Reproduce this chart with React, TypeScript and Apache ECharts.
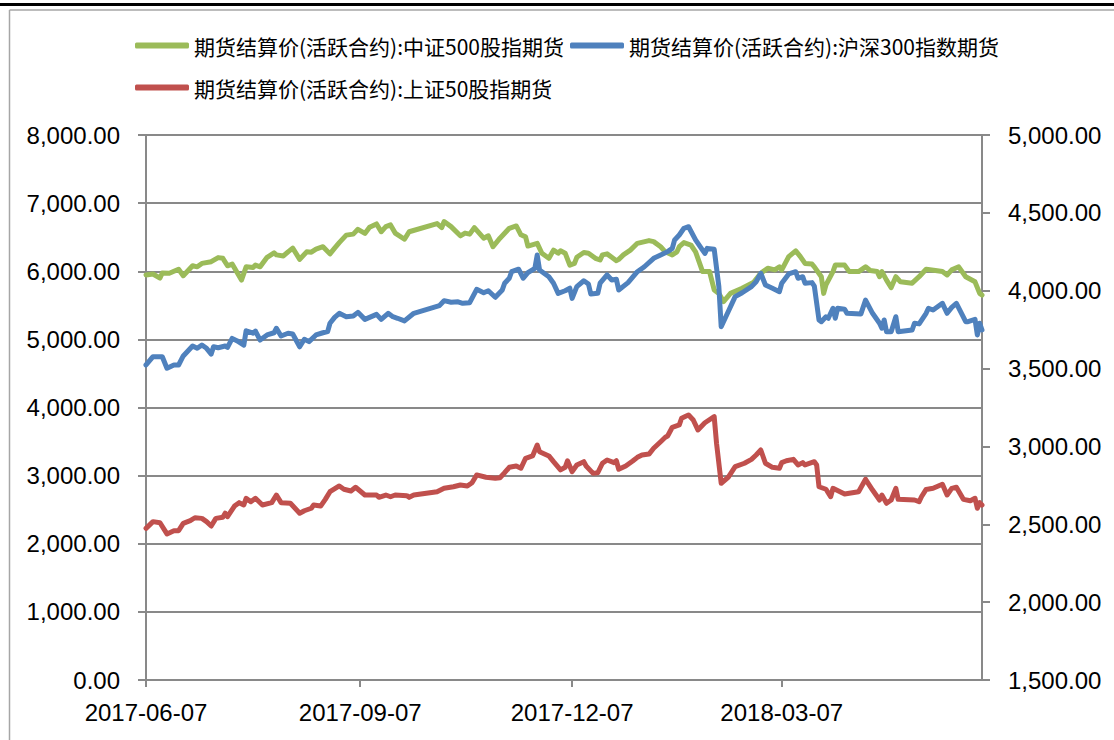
import React, { useEffect, useRef } from "react";
import * as echarts from "echarts";

const seriesNames = [
  "期货结算价(活跃合约):中证500股指期货",
  "期货结算价(活跃合约):沪深300指数期货",
  "期货结算价(活跃合约):上证50股指期货",
];

const xStart = "2017-06-07";
const xEnd = "2018-06-01";
const xTickDates = ["2017-06-07", "2017-09-07", "2017-12-07", "2018-03-07"];

const leftAxis = { min: 0, max: 8000, interval: 1000 };
const rightAxis = { min: 1500, max: 5000, interval: 500 };

// 中证500 (left axis)
const csi500Dates = [
  "2017-06-07","2017-06-10","2017-06-13","2017-06-14","2017-06-17","2017-06-21","2017-06-23","2017-06-27","2017-06-29","2017-07-01",
  "2017-07-05","2017-07-08","2017-07-10","2017-07-12","2017-07-14","2017-07-18","2017-07-20","2017-07-23","2017-07-24","2017-07-26",
  "2017-07-29","2017-08-01","2017-08-02","2017-08-05","2017-08-07","2017-08-09","2017-08-12","2017-08-15","2017-08-17","2017-08-19",
  "2017-08-22","2017-08-25","2017-08-27","2017-08-29","2017-09-01","2017-09-04","2017-09-06","2017-09-09","2017-09-11","2017-09-14",
  "2017-09-16","2017-09-18","2017-09-20","2017-09-22","2017-09-26","2017-09-28","2017-10-10","2017-10-12","2017-10-13","2017-10-16",
  "2017-10-20","2017-10-22","2017-10-24","2017-10-26","2017-10-30","2017-11-01","2017-11-03","2017-11-06","2017-11-10","2017-11-13",
  "2017-11-15","2017-11-17","2017-11-18","2017-11-22","2017-11-24","2017-11-27","2017-11-29","2017-12-01","2017-12-02","2017-12-04",
  "2017-12-06","2017-12-08","2017-12-09","2017-12-12","2017-12-14","2017-12-17","2017-12-19","2017-12-20","2017-12-22","2017-12-24",
  "2017-12-26","2017-12-27","2017-12-29","2018-01-01","2018-01-04","2018-01-09","2018-01-11","2018-01-14","2018-01-16","2018-01-19",
  "2018-01-21","2018-01-22","2018-01-24","2018-01-27","2018-01-29","2018-02-01","2018-02-04","2018-02-06","2018-02-08","2018-02-10",
  "2018-02-13","2018-02-18","2018-02-23","2018-02-26","2018-03-01","2018-03-04","2018-03-06","2018-03-07","2018-03-10","2018-03-13",
  "2018-03-15","2018-03-17","2018-03-20","2018-03-21","2018-03-24","2018-03-25","2018-03-26","2018-03-29","2018-03-30","2018-04-03",
  "2018-04-05","2018-04-09","2018-04-12","2018-04-14","2018-04-17","2018-04-18","2018-04-19","2018-04-21","2018-04-23","2018-04-25",
  "2018-04-27","2018-05-02","2018-05-05","2018-05-08","2018-05-12","2018-05-15","2018-05-17","2018-05-19","2018-05-22","2018-05-25",
  "2018-05-29","2018-05-31","2018-06-01",
];
const csi500Values = [
  5945,5960,5900,5975,5970,6030,5935,6080,6065,6115,
  6140,6200,6190,6080,6105,5870,6065,6055,6090,6065,
  6205,6270,6240,6225,6285,6340,6175,6285,6280,6325,
  6360,6255,6340,6420,6530,6545,6615,6555,6645,6695,
  6580,6655,6680,6560,6470,6580,6700,6640,6730,6655,
  6520,6560,6545,6640,6485,6520,6360,6485,6630,6665,
  6535,6505,6370,6410,6265,6190,6310,6265,6300,6265,
  6090,6115,6205,6275,6265,6190,6165,6240,6255,6205,
  6155,6175,6240,6310,6410,6450,6435,6360,6285,6240,
  6285,6360,6420,6385,6285,5995,5995,5725,5675,5555,
  5675,5750,5840,5970,6045,6020,6065,6020,6215,6300,
  6215,6115,6105,6065,5920,5675,5800,5995,6090,6090,
  5995,5995,6065,6010,5995,5920,5995,5870,5760,5920,
  5845,5825,5920,6030,6010,5995,5945,6020,6065,5920,
  5845,5675,5650,
];

// 沪深300 (right axis)
const hs300Dates = [
  "2017-06-07","2017-06-10","2017-06-14","2017-06-16","2017-06-19","2017-06-21","2017-06-23","2017-06-27","2017-06-29","2017-07-01",
  "2017-07-03","2017-07-05","2017-07-06","2017-07-08","2017-07-11","2017-07-12","2017-07-14","2017-07-16","2017-07-19","2017-07-20",
  "2017-07-23","2017-07-24","2017-07-26","2017-07-29","2017-08-01","2017-08-02","2017-08-04","2017-08-07","2017-08-09","2017-08-12",
  "2017-08-14","2017-08-16","2017-08-19","2017-08-22","2017-08-24","2017-08-25","2017-08-27","2017-08-29","2017-09-01","2017-09-04",
  "2017-09-06","2017-09-09","2017-09-11","2017-09-14","2017-09-16","2017-09-19","2017-09-21","2017-09-23","2017-09-26","2017-09-30",
  "2017-10-11","2017-10-13","2017-10-16","2017-10-19","2017-10-21","2017-10-24","2017-10-27","2017-10-30","2017-11-01","2017-11-04",
  "2017-11-07","2017-11-08","2017-11-10","2017-11-11","2017-11-14","2017-11-16","2017-11-18","2017-11-21","2017-11-22","2017-11-23",
  "2017-11-27","2017-11-29","2017-12-01","2017-12-04","2017-12-06","2017-12-07","2017-12-09","2017-12-12","2017-12-14","2017-12-15",
  "2017-12-18","2017-12-19","2017-12-22","2017-12-24","2017-12-26","2017-12-27","2017-12-31","2018-01-04","2018-01-07","2018-01-11",
  "2018-01-14","2018-01-17","2018-01-19","2018-01-20","2018-01-22","2018-01-24","2018-01-26","2018-01-29","2018-02-01","2018-02-02",
  "2018-02-03","2018-02-06","2018-02-08","2018-02-09","2018-02-12","2018-02-15","2018-02-18","2018-02-22","2018-02-24","2018-02-26",
  "2018-02-28","2018-03-03","2018-03-06","2018-03-07","2018-03-10","2018-03-13","2018-03-14","2018-03-16","2018-03-17","2018-03-20",
  "2018-03-21","2018-03-23","2018-03-24","2018-03-26","2018-03-27","2018-03-29","2018-03-30","2018-03-31","2018-04-03","2018-04-04",
  "2018-04-10","2018-04-12","2018-04-15","2018-04-18","2018-04-19","2018-04-20","2018-04-21","2018-04-23","2018-04-25","2018-04-26",
  "2018-05-02","2018-05-03","2018-05-05","2018-05-08","2018-05-09","2018-05-11","2018-05-15","2018-05-17","2018-05-19","2018-05-21",
  "2018-05-25","2018-05-26","2018-05-29","2018-05-30","2018-05-31","2018-06-01",
];
const hs300Values = [
  3523,3576,3576,3502,3523,3523,3581,3645,3630,3651,
  3630,3593,3640,3634,3645,3636,3694,3679,3651,3743,
  3727,3741,3683,3716,3730,3759,3709,3727,3722,3640,
  3688,3673,3716,3730,3737,3791,3829,3855,3833,3838,
  3861,3816,3829,3848,3816,3855,3833,3823,3806,3855,
  3904,3936,3926,3929,3919,3923,4009,3987,4000,3958,
  4005,4048,4080,4122,4138,4080,4116,4144,4229,4133,
  4090,4048,3983,4000,4016,3951,4026,4064,4043,3979,
  3983,4048,4101,4069,4073,4005,4052,4122,4154,4208,
  4229,4251,4272,4326,4358,4401,4411,4326,4261,4240,
  4272,4266,4026,3769,3865,3962,3987,4026,4058,4112,
  4037,4016,3994,4048,4108,4122,4080,4090,4048,4052,
  4030,3812,3801,3833,3823,3887,3823,3887,3881,3855,
  3851,3940,3855,3791,3759,3812,3737,3737,3833,3737,
  3748,3791,3787,3855,3887,3876,3919,3855,3893,3919,
  3801,3801,3816,3716,3791,3748,
];

// 上证50 (right axis)
const sse50Dates = [
  "2017-06-07","2017-06-10","2017-06-13","2017-06-16","2017-06-19","2017-06-21","2017-06-23","2017-06-26","2017-06-28","2017-07-01",
  "2017-07-03","2017-07-05","2017-07-07","2017-07-10","2017-07-11","2017-07-12","2017-07-15","2017-07-17","2017-07-19","2017-07-20",
  "2017-07-22","2017-07-24","2017-07-27","2017-07-31","2017-08-02","2017-08-04","2017-08-08","2017-08-12","2017-08-14","2017-08-17",
  "2017-08-18","2017-08-21","2017-08-23","2017-08-25","2017-08-29","2017-08-31","2017-09-03","2017-09-05","2017-09-09","2017-09-14",
  "2017-09-15","2017-09-18","2017-09-20","2017-09-22","2017-09-27","2017-09-28","2017-09-30","2017-10-10","2017-10-13","2017-10-17",
  "2017-10-20","2017-10-23","2017-10-25","2017-10-27","2017-10-31","2017-11-04","2017-11-06","2017-11-08","2017-11-10","2017-11-13",
  "2017-11-15","2017-11-17","2017-11-20","2017-11-22","2017-11-23","2017-11-27","2017-11-29","2017-12-02","2017-12-04","2017-12-05",
  "2017-12-07","2017-12-09","2017-12-12","2017-12-13","2017-12-16","2017-12-18","2017-12-20","2017-12-22","2017-12-25","2017-12-26",
  "2017-12-27","2017-12-30","2018-01-02","2018-01-04","2018-01-06","2018-01-09","2018-01-11","2018-01-14","2018-01-16","2018-01-17",
  "2018-01-19","2018-01-22","2018-01-23","2018-01-25","2018-01-26","2018-01-28","2018-01-30","2018-02-02","2018-02-06","2018-02-07",
  "2018-02-09","2018-02-12","2018-02-15","2018-02-19","2018-02-22","2018-02-24","2018-02-26","2018-02-28","2018-03-03","2018-03-06",
  "2018-03-07","2018-03-09","2018-03-12","2018-03-14","2018-03-16","2018-03-17","2018-03-21","2018-03-22","2018-03-23","2018-03-26",
  "2018-03-28","2018-03-29","2018-04-03","2018-04-09","2018-04-12","2018-04-15","2018-04-18","2018-04-19","2018-04-21","2018-04-23",
  "2018-04-25","2018-04-26","2018-05-03","2018-05-05","2018-05-06","2018-05-08","2018-05-11","2018-05-15","2018-05-17","2018-05-19",
  "2018-05-21","2018-05-24","2018-05-27","2018-05-29","2018-05-30","2018-05-31","2018-06-01",
];
const sse50Values = [
  2474,2517,2510,2438,2459,2459,2506,2523,2542,2538,
  2517,2489,2538,2545,2571,2549,2617,2639,2624,2667,
  2645,2667,2624,2639,2688,2639,2635,2571,2587,2603,
  2624,2617,2660,2709,2746,2725,2714,2738,2688,2688,
  2673,2688,2677,2688,2684,2673,2688,2709,2731,2741,
  2752,2746,2767,2817,2802,2795,2799,2831,2866,2874,
  2860,2924,2939,3009,2966,2939,2902,2849,2866,2908,
  2838,2881,2902,2874,2827,2831,2892,2913,2896,2908,
  2853,2874,2906,2930,2945,2951,2988,3030,3059,3067,
  3123,3138,3181,3195,3202,3170,3106,3152,3191,3020,
  2763,2802,2870,2892,2917,2945,2977,2892,2866,2860,
  2896,2908,2917,2881,2896,2881,2902,2881,2741,2725,
  2677,2731,2695,2709,2789,2720,2656,2688,2635,2656,
  2731,2660,2656,2645,2677,2724,2731,2757,2688,2731,
  2738,2660,2651,2667,2603,2639,2624,
];

const colors = ["#9BBB59", "#4F81BD", "#C0504D"];
const axisGray = "#898989";
const numFont = "'Liberation Sans', Arial, sans-serif";
const cjkFont = "'Noto Sans CJK SC', sans-serif";

function toTs(s: string): number {
  const [y, m, d] = s.split("-").map(Number);
  return new Date(y, m - 1, d).getTime();
}
function pad(n: number): string {
  return n < 10 ? "0" + n : "" + n;
}
function fmtDate(v: number): string {
  const d = new Date(v);
  return `${d.getFullYear()}-${pad(d.getMonth() + 1)}-${pad(d.getDate())}`;
}
function fmtNum(v: number): string {
  return v.toLocaleString("en-US", { minimumFractionDigits: 2, maximumFractionDigits: 2 });
}
function pairs(dates: string[], values: number[]) {
  return dates.map((d, i) => [toTs(d), values[i]]);
}

export default function App() {
  const ref = useRef<HTMLDivElement>(null);
  useEffect(() => {
    if (!ref.current) return;
    const chart = echarts.init(ref.current, null, { renderer: "svg" });
    const tickTs = xTickDates.map(toTs);
    const yAxisCommon = {
      type: "value",
      axisLine: { show: true, lineStyle: { color: axisGray, width: 2 } },
      axisTick: { show: true, length: 8, lineStyle: { color: axisGray, width: 2 } },
      axisLabel: {
        fontSize: 24,
        fontFamily: numFont,
        color: "#000",
        margin: 26,
        formatter: (v: number) => fmtNum(v),
      },
    };
    const legendCommon = {
      icon: "roundRect",
      itemWidth: 54,
      itemHeight: 6,
      padding: 0,
      selectedMode: false,
      textStyle: { fontSize: 21, fontFamily: cjkFont, color: "#000" },
    };
    const lineStyleOf = (c: string) => ({ width: 5, color: c, join: "round", cap: "round" });
    chart.setOption({
      animation: false,
      backgroundColor: "#fff",
      color: colors,
      grid: { left: 146, right: 132, top: 135, bottom: 60, containLabel: false },
      legend: [
        { ...legendCommon, data: [seriesNames[0]], left: 135, top: 35 },
        { ...legendCommon, data: [seriesNames[1]], left: 570, top: 35 },
        { ...legendCommon, data: [seriesNames[2]], left: 135, top: 77 },
      ],
      graphic: [
        { type: "rect", shape: { x: 0, y: 3, width: 1114, height: 3 }, style: { fill: "#000" } },
        { type: "line", shape: { x1: 9.5, y1: 10, x2: 1114, y2: 10 }, style: { stroke: "#A6A6A6", lineWidth: 1.5 } },
        { type: "line", shape: { x1: 9.5, y1: 10, x2: 9.5, y2: 740 }, style: { stroke: "#A6A6A6", lineWidth: 1.5 } },
      ],
      xAxis: {
        type: "value",
        min: toTs(xStart),
        max: toTs(xEnd),
        axisLine: { show: true, onZero: false, lineStyle: { color: axisGray, width: 2 } },
        axisTick: { show: true, length: 7, customValues: tickTs, lineStyle: { color: axisGray, width: 2 } },
        axisLabel: {
          customValues: tickTs,
          formatter: (v: number) => fmtDate(v),
          fontSize: 24,
          fontFamily: numFont,
          color: "#000",
          margin: 20,
        },
        splitLine: { show: false },
      },
      yAxis: [
        {
          ...yAxisCommon,
          position: "left",
          min: leftAxis.min,
          max: leftAxis.max,
          interval: leftAxis.interval,
          splitLine: { show: true, lineStyle: { color: axisGray, width: 2 } },
        },
        {
          ...yAxisCommon,
          position: "right",
          min: rightAxis.min,
          max: rightAxis.max,
          interval: rightAxis.interval,
          splitLine: { show: false },
        },
      ],
      series: [
        {
          name: seriesNames[0],
          type: "line",
          yAxisIndex: 0,
          data: pairs(csi500Dates, csi500Values),
          showSymbol: false,
          lineStyle: lineStyleOf(colors[0]),
        },
        {
          name: seriesNames[1],
          type: "line",
          yAxisIndex: 1,
          data: pairs(hs300Dates, hs300Values),
          showSymbol: false,
          lineStyle: lineStyleOf(colors[1]),
        },
        {
          name: seriesNames[2],
          type: "line",
          yAxisIndex: 1,
          data: pairs(sse50Dates, sse50Values),
          showSymbol: false,
          lineStyle: lineStyleOf(colors[2]),
        },
      ],
    });
    return () => chart.dispose();
  }, []);
  return (
    <div
      ref={ref}
      style={{ position: "fixed", left: 0, top: 0, width: 1114, height: 740, background: "#fff" }}
    />
  );
}
